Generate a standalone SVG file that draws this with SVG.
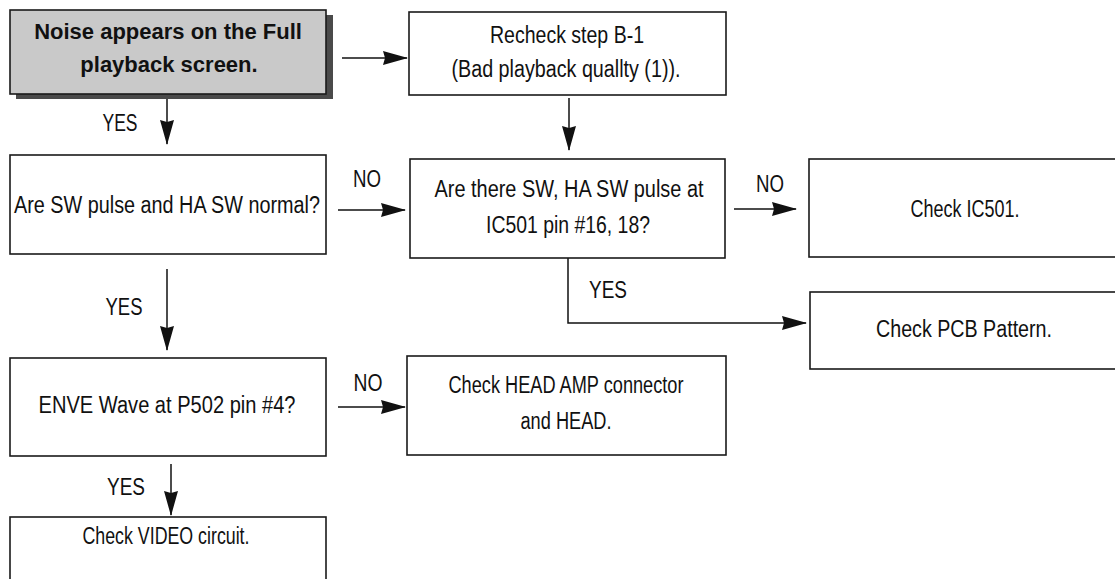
<svg xmlns="http://www.w3.org/2000/svg" width="1115" height="579" viewBox="0 0 1115 579">
<style>
.box{fill:#fff;stroke:#1a1a1a;stroke-width:1.6}
.t{font-family:"Liberation Sans",Arial,sans-serif;font-size:23px;fill:#111;text-anchor:middle}
.b{font-family:"Liberation Sans",Arial,sans-serif;font-size:22px;font-weight:bold;fill:#111;text-anchor:middle}
.c{fill:none;stroke:#111;stroke-width:1.5}
</style>
<defs>
<marker id="ah" markerUnits="userSpaceOnUse" markerWidth="25" markerHeight="15" refX="24" refY="7.5" orient="auto" viewBox="0 0 25 15">
<path d="M0,0.5 L25,7.5 L0,14.5 L2,7.5 z" fill="#111"/>
</marker>
</defs>
<rect width="1115" height="579" fill="#fff"/>
<g id="connectors">
<path class="c" d="M342,58 H407" marker-end="url(#ah)"/>
<path class="c" d="M167,99 V144" marker-end="url(#ah)"/>
<path class="c" d="M569,98 V150" marker-end="url(#ah)"/>
<path class="c" d="M338,210 H405" marker-end="url(#ah)"/>
<path class="c" d="M734,209 H796" marker-end="url(#ah)"/>
<path class="c" d="M568,258 V323 H806" marker-end="url(#ah)"/>
<path class="c" d="M167,269 V350" marker-end="url(#ah)"/>
<path class="c" d="M338,407 H405" marker-end="url(#ah)"/>
<path class="c" d="M171,464 V515" marker-end="url(#ah)"/>
<text class="t" x="120" y="131" textLength="35" lengthAdjust="spacingAndGlyphs">YES</text>
<text class="t" x="367" y="187" textLength="28" lengthAdjust="spacingAndGlyphs">NO</text>
<text class="t" x="770" y="192" textLength="28" lengthAdjust="spacingAndGlyphs">NO</text>
<text class="t" x="608" y="298" textLength="38" lengthAdjust="spacingAndGlyphs">YES</text>
<text class="t" x="124" y="315" textLength="37" lengthAdjust="spacingAndGlyphs">YES</text>
<text class="t" x="368" y="391" textLength="29" lengthAdjust="spacingAndGlyphs">NO</text>
<text class="t" x="126" y="495" textLength="38" lengthAdjust="spacingAndGlyphs">YES</text>
</g>
<g id="start">
<rect x="16" y="15" width="317" height="84" fill="#4a4a4a"/>
<rect class="box" x="10" y="10" width="316" height="84" style="fill:#c9c9c9"/>
<text class="b" x="168" y="39">Noise appears on the Full</text>
<text class="b" x="169" y="72">playback screen.</text>
</g>
<g id="recheck">
<rect class="box" x="409" y="12" width="317" height="83"/>
<text class="t" x="567" y="43" textLength="154" lengthAdjust="spacingAndGlyphs">Recheck step B-1</text>
<text class="t" x="566" y="77" textLength="229" lengthAdjust="spacingAndGlyphs">(Bad playback quallty (1)).</text>
</g>
<g id="sw-normal">
<rect class="box" x="10" y="155" width="316" height="99"/>
<text class="t" x="167" y="213" textLength="306" lengthAdjust="spacingAndGlyphs">Are SW pulse and HA SW normal?</text>
</g>
<g id="ic501-pulse">
<rect class="box" x="410" y="159" width="315" height="99"/>
<text class="t" x="569" y="197" textLength="269" lengthAdjust="spacingAndGlyphs">Are there SW, HA SW pulse at</text>
<text class="t" x="568" y="233" textLength="164" lengthAdjust="spacingAndGlyphs">IC501 pin #16, 18?</text>
</g>
<g id="check-ic501">
<rect class="box" x="809" y="159" width="320" height="98"/>
<text class="t" x="965" y="217" textLength="109" lengthAdjust="spacingAndGlyphs">Check IC501.</text>
</g>
<g id="check-pcb">
<rect class="box" x="810" y="292" width="320" height="77"/>
<text class="t" x="964" y="337" textLength="176" lengthAdjust="spacingAndGlyphs">Check PCB Pattern.</text>
</g>
<g id="enve">
<rect class="box" x="10" y="358" width="316" height="98"/>
<text class="t" x="167" y="413" textLength="257" lengthAdjust="spacingAndGlyphs">ENVE Wave at P502 pin #4?</text>
</g>
<g id="check-head">
<rect class="box" x="407" y="356" width="319" height="99"/>
<text class="t" x="566" y="393" textLength="235" lengthAdjust="spacingAndGlyphs">Check HEAD AMP connector</text>
<text class="t" x="566" y="429" textLength="91" lengthAdjust="spacingAndGlyphs">and HEAD.</text>
</g>
<g id="check-video">
<rect class="box" x="10" y="517" width="316" height="80"/>
<text class="t" x="166" y="544" textLength="167" lengthAdjust="spacingAndGlyphs">Check VIDEO circuit.</text>
</g>
</svg>
